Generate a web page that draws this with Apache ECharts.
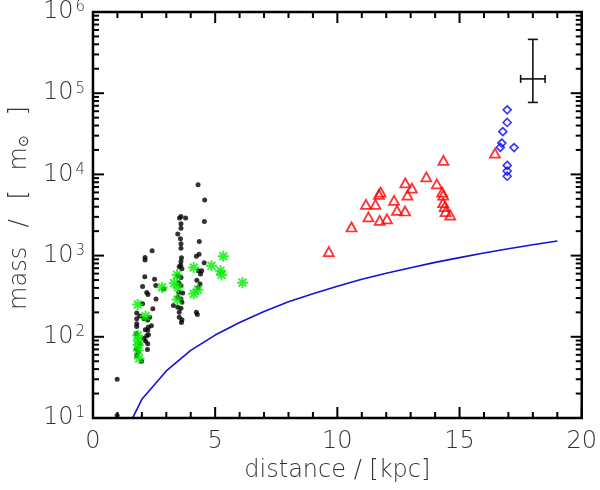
<!DOCTYPE html>
<html>
<head>
<meta charset="utf-8">
<script src="https://cdn.jsdelivr.net/npm/echarts@6/dist/echarts.min.js"></script>
<style>
html, body { margin: 0; padding: 0; background: #fff; }
#chart { width: 600px; height: 490px; }
</style>
</head>
<body>
<div id="chart"></div>
<script>
// black dots
var blackDist = [2.42, 2.13, 2.13, 2.12, 2.52, 2.03, 2.57, 2.20, 2.25, 2.90, 2.58, 2.03, 2.45, 1.79, 1.92, 2.08, 2.32, 1.79, 2.24, 1.79,
    2.39, 1.79, 2.26, 2.14, 2.24, 1.77, 2.27, 2.20, 2.08, 2.15, 1.92, 2.24, 2.23, 1.85, 1.79, 1.99, 1.77, 0.99, 0.99, 3.29,
    4.30, 4.57, 4.56, 3.54, 3.60, 3.79, 3.60, 3.60, 3.47, 3.58, 4.35, 3.60, 3.60, 4.34, 4.23, 3.62, 3.60, 3.59, 4.55, 3.53,
    3.64, 4.31, 4.45, 4.40, 4.25, 4.38, 4.31, 3.47, 3.60, 3.51, 3.60, 3.51, 3.67, 3.47, 3.60, 3.64, 3.47, 3.60, 3.53, 4.23,
    4.27, 3.53, 3.64, 3.62];
var blackMass = [1145, 948, 881, 550, 513, 415, 427, 350, 331, 388, 293, 255, 221, 197, 180, 167, 174, 167, 161, 145,
    137, 134, 131, 122, 120, 109, 106, 103, 95, 89, 82, 82, 70, 65, 59, 50, 71, 30, 10.7, 243,
    7480, 4830, 2630, 2900, 3030, 2900, 2470, 2170, 1850, 1610, 1490, 1400, 1230, 1040, 980, 940, 847, 760, 817, 730,
    689, 652, 652, 593, 498, 448, 406, 565, 539, 464, 427, 353, 347, 307, 293, 266, 231, 225, 201, 201,
    188, 174, 162, 150];

// green asterisks
var greenDist = [1.83, 2.15, 1.83, 1.85, 1.85, 1.85, 1.89, 2.83, 3.32, 3.44, 3.48, 3.45, 4.12, 4.12, 4.29, 4.85, 5.33, 5.22, 5.26, 6.12];
var greenMass = [250, 180, 104, 90, 79, 68, 54, 406, 458, 582, 406, 287, 714, 338, 381, 750, 980, 652, 578, 464];

// red triangles
var redDist = [9.65, 10.58, 11.27, 11.17, 11.56, 11.70, 11.77, 11.73, 12.03, 12.32, 12.44, 12.77, 12.78, 12.87, 13.05, 13.64,
    14.07, 14.34, 14.29, 14.33, 14.33, 14.39, 14.43, 14.62, 16.45];
var redMass = [1120, 2250, 2990, 4280, 4280, 5680, 6050, 2720, 2830, 4790, 3610, 3540, 7870, 5560, 6770, 9310,
    7650, 14900, 6050, 5560, 4480, 4000, 3470, 3160, 18300];

// blue diamonds
var blueDist = [16.95, 16.95, 16.77, 16.73, 16.67, 17.23, 16.95, 16.95, 16.95];
var blueMass = [62400, 43600, 33600, 24300, 21500, 21400, 12900, 11000, 9500];

// blue limit curve
var curveDist = [1, 2, 3, 4, 5, 6, 7, 8, 9, 10, 11, 12, 13, 14, 15, 16, 17, 18, 19];
var curveMass = [4.2, 17, 38, 68, 105, 150, 205, 270, 340, 420, 510, 605, 710, 825, 945, 1075, 1215, 1360, 1515];

// error bar (centre, x range, y range)
var errCentre = [18, 1.5e5];
var errDist = [17.5, 18.5];
var errMass = [7.7e4, 4.6e5];

// axes
var xMajor = [0, 5, 10, 15, 20];
var xMinor = [1, 2, 3, 4, 6, 7, 8, 9, 11, 12, 13, 14, 16, 17, 18, 19];
var massDecades = [10, 100, 1000, 10000, 100000, 1000000];
var minorFactors = [2, 3, 4, 5, 6, 7, 8, 9];

function pairs(a, b) {
    return a.map(function (v, i) { return [v, b[i]]; });
}

var FONT = 'DejaVu Sans';
var TXT = '#333';
var FRAME = '#000';
var X0 = xMajor[0], X1 = xMajor[xMajor.length - 1];
var Y0 = massDecades[0], Y1 = massDecades[massDecades.length - 1];

// tick rows: [dist, mass, side, length]  side 0 = along x, 1 = along y
var tickRows = [];
xMajor.forEach(function (v) { tickRows.push([v, Y0, 0, 11]); });
xMinor.forEach(function (v) { tickRows.push([v, Y0, 0, 6]); });
massDecades.forEach(function (m) { tickRows.push([X0, m, 1, 11]); });
massDecades.slice(0, -1).forEach(function (m) {
    minorFactors.forEach(function (f) { tickRows.push([X0, m * f, 1, 6]); });
});

var chart = echarts.init(document.getElementById('chart'));

chart.setOption({
    animation: false,
    backgroundColor: '#fff',
    grid: { left: 91, right: 13, top: 10, bottom: 72 },
    xAxis: {
        type: 'value', min: X0, max: X1, interval: 5,
        axisLine: { show: false },
        axisTick: { show: false },
        splitLine: { show: false },
        axisLabel: { margin: 12, color: TXT, fontFamily: FONT, fontSize: 24, fontWeight: 200 },
        name: 'distance / [kpc]', nameLocation: 'middle', nameGap: 40,
        nameTextStyle: { color: TXT, fontFamily: FONT, fontSize: 24, fontWeight: 200 }
    },
    yAxis: {
        type: 'log', logBase: 10, min: Y0, max: Y1,
        axisLine: { show: false },
        axisTick: { show: false },
        splitLine: { show: false },
        axisLabel: {
            margin: 8,
            formatter: function (v) {
                return '{b|10}{s|' + Math.round(Math.log10(v)) + '}';
            },
            rich: {
                b: { color: TXT, fontFamily: FONT, fontSize: 24, fontWeight: 200 },
                s: { color: TXT, fontFamily: FONT, fontSize: 15, fontWeight: 200, verticalAlign: 'top', padding: [0, 0, 8, 2] }
            }
        },
        name: 'mass\u2002 /\u2002 [\u2002 m{s|⊙}\u2002 ]', nameLocation: 'middle', nameGap: 60,
        nameTextStyle: {
            color: TXT, fontFamily: FONT, fontSize: 24, fontWeight: 200,
            padding: [0, 0, 0, 14],
            rich: { s: { color: TXT, fontFamily: FONT, fontSize: 14, fontWeight: 200, padding: [8, 0, 0, 0] } }
        }
    },
    series: [
        {
            // frame box and inward ticks on all four sides
            type: 'custom', silent: true, clip: false, z: 10,
            data: tickRows,
            renderItem: function (params, api) {
                var len = api.value(3);
                var st = { stroke: FRAME, lineWidth: 2, fill: null };
                var kids = [];
                if (params.dataIndex === 0) {
                    var p0 = api.coord([X0, Y0]);
                    var p1 = api.coord([X1, Y1]);
                    kids.push({
                        type: 'rect',
                        shape: { x: p0[0], y: p1[1], width: p1[0] - p0[0], height: p0[1] - p1[1] },
                        style: { stroke: FRAME, lineWidth: 2.5, fill: null }
                    });
                }
                if (api.value(2) === 0) {
                    var b = api.coord([api.value(0), Y0]);
                    var t = api.coord([api.value(0), Y1]);
                    kids.push({ type: 'line', shape: { x1: b[0], y1: b[1], x2: b[0], y2: b[1] - len }, style: st });
                    kids.push({ type: 'line', shape: { x1: t[0], y1: t[1], x2: t[0], y2: t[1] + len }, style: st });
                } else {
                    var l = api.coord([X0, api.value(1)]);
                    var r = api.coord([X1, api.value(1)]);
                    kids.push({ type: 'line', shape: { x1: l[0], y1: l[1], x2: l[0] + len, y2: l[1] }, style: st });
                    kids.push({ type: 'line', shape: { x1: r[0], y1: r[1], x2: r[0] - len, y2: r[1] }, style: st });
                }
                return { type: 'group', children: kids };
            }
        },
        {
            type: 'line', data: pairs(curveDist, curveMass), showSymbol: false, clip: true,
            lineStyle: { color: '#1212d8', width: 1.6 }
        },
        {
            type: 'scatter', data: pairs(blackDist, blackMass), symbol: 'circle', symbolSize: 5,
            itemStyle: { color: '#000' }
        },
        {
            type: 'scatter', data: pairs(greenDist, greenMass),
            symbol: 'path://M0,5L10,5M5,0L5,10M1.5,1.5L8.5,8.5M8.5,1.5L1.5,8.5', symbolSize: 11,
            itemStyle: { color: '#00ff00', borderColor: '#00ee00', borderWidth: 2 }
        },
        {
            type: 'scatter', data: pairs(redDist, redMass), symbol: 'triangle', symbolSize: [10, 9],
            itemStyle: { color: 'rgba(0,0,0,0)', borderColor: '#ff0000', borderWidth: 1.8 }
        },
        {
            type: 'scatter', data: pairs(blueDist, blueMass), symbol: 'diamond', symbolSize: [8, 8],
            itemStyle: { color: 'rgba(0,0,0,0)', borderColor: '#0000ff', borderWidth: 1.6 }
        },
        {
            type: 'custom', silent: true, clip: false,
            data: [[errCentre[0], errCentre[1], errDist[0], errDist[1], errMass[0], errMass[1]]],
            renderItem: function (params, api) {
                var c = api.coord([api.value(0), api.value(1)]);
                var xl = api.coord([api.value(2), api.value(1)]);
                var xr = api.coord([api.value(3), api.value(1)]);
                var yb = api.coord([api.value(0), api.value(4)]);
                var yt = api.coord([api.value(0), api.value(5)]);
                var st = { stroke: '#111', lineWidth: 1.6 };
                function seg(x1, y1, x2, y2) {
                    return { type: 'line', shape: { x1: x1, y1: y1, x2: x2, y2: y2 }, style: st };
                }
                return {
                    type: 'group', children: [
                        seg(xl[0], c[1], xr[0], c[1]),
                        seg(c[0], yt[1], c[0], yb[1]),
                        seg(c[0] - 5, yt[1], c[0] + 5, yt[1]),
                        seg(c[0] - 5, yb[1], c[0] + 5, yb[1]),
                        seg(xl[0], c[1] - 4, xl[0], c[1] + 4),
                        seg(xr[0], c[1] - 4, xr[0], c[1] + 4)
                    ]
                };
            }
        }
    ]
});
</script>
</body>
</html>
